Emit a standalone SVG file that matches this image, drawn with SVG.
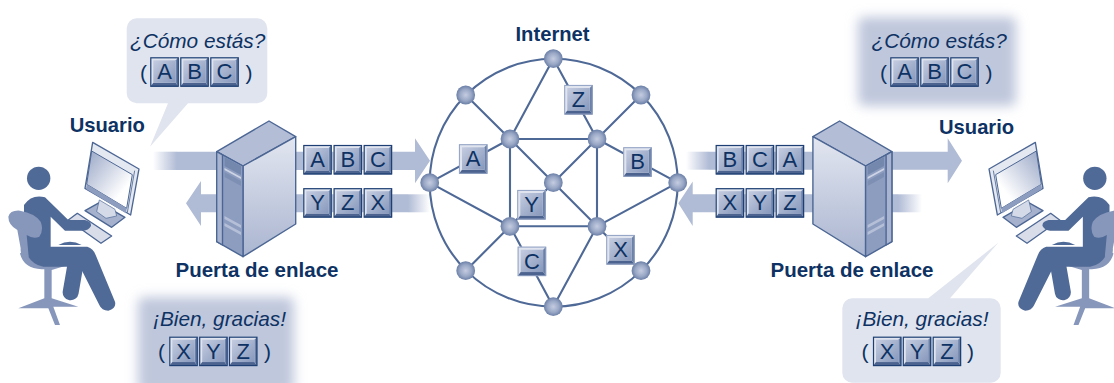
<svg xmlns="http://www.w3.org/2000/svg" width="1114" height="383" viewBox="0 0 1114 383">
<style>
.navy{fill:#0d3263;font-family:"Liberation Sans",Arial,sans-serif}
.lab{font-size:20.2px;font-weight:700}
.wide{font-size:20.5px;font-weight:700}
.say{font-size:20.8px;font-style:italic}
.par{font-size:21px}
.let{font-size:22px;text-anchor:middle}
.band{fill:#b0bbd5}
.edge{stroke:#4f6997;stroke-width:2.1;fill:none}
.node{fill:url(#ball)}
.sv{stroke:#4c6694;stroke-width:1.4;stroke-linejoin:round}
.body{fill:#506a97}
.chair{fill:#8797bb}
.cp{stroke:#4c6694;stroke-width:4;stroke-linejoin:round}
</style>
<defs>
<radialGradient id="ball" cx=".5" cy=".5" r=".55"><stop offset="0" stop-color="#c4cce0"/><stop offset=".55" stop-color="#9aa8c6"/><stop offset="1" stop-color="#5f759f"/></radialGradient>
<linearGradient id="face" x1="0" y1="0" x2="1" y2="1"><stop offset="0" stop-color="#c4cce0"/><stop offset="1" stop-color="#8798bc"/></linearGradient>
<linearGradient id="fadeR" x1="0" x2="1"><stop offset="0" stop-color="#b0bbd5" stop-opacity="0"/><stop offset="1" stop-color="#b0bbd5"/></linearGradient>
<linearGradient id="fadeL" x1="0" x2="1"><stop offset="0" stop-color="#b0bbd5"/><stop offset="1" stop-color="#b0bbd5" stop-opacity="0"/></linearGradient>
<linearGradient id="svFront" x1="0" y1="0" x2="0" y2="1"><stop offset="0" stop-color="#e2e6f0"/><stop offset="1" stop-color="#aab5d0"/></linearGradient>
<linearGradient id="screen" x1="0" y1="0" x2="1" y2="1"><stop offset="0" stop-color="#98a6c6"/><stop offset=".75" stop-color="#fff"/></linearGradient>
<filter id="soft" x="-20%" y="-20%" width="140%" height="140%"><feGaussianBlur stdDeviation="6"/></filter>
<g id="bevel">
<rect x="0" y="0" width="28.4" height="29.4" fill="#dfe4ef"/>
<polygon points="0,29.4 28.4,29.4 25.4,25.4 3,25.4" fill="#4c6390"/>
<polygon points="28.4,0 28.4,29.4 25.4,25.4 25.4,3" fill="#6c81a8"/>
<rect x="3" y="3" width="22.4" height="22.4" fill="url(#face)"/>
</g>
<g id="tile"><use href="#bevel"/><rect x=".5" y=".5" width="27.4" height="28.4" fill="none" stroke="#1d3f73" stroke-width="1.2"/></g>
<g id="ntile"><use href="#bevel"/><rect x=".4" y=".4" width="27.6" height="28.6" fill="none" stroke="#8fa0c2" stroke-width="1"/></g>
<g id="server">
<polygon class="sv" points="216.7,151.7 269,121 295.7,136.7 243,166" fill="#b3bdd6"/>
<polygon class="sv" points="243,166 295.7,136.7 295.7,224 243,256.7" fill="url(#svFront)"/>
<polygon class="sv" points="216.7,151.7 243,166 243,256.7 216.7,241.7" fill="#8d9dc0"/>
<polygon class="sv" points="216.7,151.7 222.5,155 222.5,245 216.7,241.7" fill="#a9b5d0"/>
<polygon points="224.5,157 241,166 241,175 224.5,166" fill="#7488ae"/>
<polygon points="224.5,168 241,177 241,179 224.5,170" fill="#cdd4e5"/>
<polygon points="224.5,172 241,181 241,186 224.5,177" fill="#7d90b4"/>
<polygon points="224.5,216 241,225 241,228 224.5,219" fill="#b5bfd7"/>
<polygon points="224.5,223 241,232 241,235 224.5,226" fill="#b5bfd7"/>
</g>
<g id="computer" transform="scale(.3333)">
<polygon class="cp" points="232,640 335,708 303,730 205,660" fill="#d8dde9"/>
<polygon class="cp" points="255,632 298,608 375,652 335,682" fill="#a5b1cd"/>
<polygon points="298,600 345,628 350,648 318,655 290,635" fill="#d4dae8" stroke="#4c6694" stroke-width="2"/>
<polygon class="cp" points="278,427 417,507 392,645 255,565" fill="#e4e8f1"/>
<polygon points="275,453 397,524 380,625 260,553" fill="url(#screen)" stroke="#4c6694" stroke-width="3"/>
<polygon points="260,553 380,625 378,640 258,567" fill="#8d9dc0"/>
<line x1="404" y1="512" x2="382" y2="638" stroke="#4c6694" stroke-width="2.5"/>
</g>
<g id="person" transform="scale(.3333)">
<circle class="body" cx="116" cy="535" r="35"/>
<path class="body" d="M175 735Q210 715 245 735Z"/>
<line x1="228" y1="785" x2="212" y2="877" stroke="#506a97" stroke-width="48" stroke-linecap="round"/>
<path class="chair" d="M60 760Q70 805 125 808L133 808V895L55 925L145 925L165 975H180L160 920L235 920L155 895V810L205 795L90 750Z"/>
<path class="body" d="M72 615Q95 582 135 592L205 660H255Q275 665 273 678Q265 692 250 692H195L152 650V740H262Q280 745 287 765L345 905Q350 925 325 932Q305 932 298 915L240 800H130Q100 795 85 770L72 680Z"/>
<path class="chair" d="M25 650Q30 630 60 632Q105 640 122 665Q132 690 118 710Q100 718 80 705L86 770Q60 780 62 745L52 690Q25 675 25 650Z"/>
</g>
</defs>

<g id="connectors">
<rect x="153" y="151.7" width="24" height="18.3" fill="url(#fadeR)"/>
<polygon class="band" points="177,151.7 415,151.7 415,138.3 430,160.8 415,183.3 415,170 177,170"/>
<polygon class="band" points="186,203.3 201,181 201,194.3 408,194.3 408,212.3 201,212.3 201,226"/>
<rect x="408" y="194.3" width="22" height="18" fill="url(#fadeL)"/>
<rect x="686" y="151.7" width="23" height="18" fill="url(#fadeR)"/>
<polygon class="band" points="709,151.7 947.7,151.7 947.7,138.3 962,160.8 947.7,183.3 947.7,169.7 709,169.7"/>
<polygon class="band" points="678.3,203.3 692.7,181.5 692.7,194.3 898,194.3 898,212.3 692.7,212.3 692.7,226"/>
<rect x="898" y="194.3" width="24" height="18" fill="url(#fadeL)"/>
</g>

<g id="net-links">
<circle class="edge" cx="553.7" cy="182.7" r="124"/>
<path class="edge" d="M553.3 58.7L510 139M553.3 58.7L597 139M465.7 95L510 139M641 95L597 139M429.7 182.7L510 139M677.7 182.7L597 139M429.7 182.7L510 226.3M677.7 182.7L597 226.3M465.7 270.7L510 226.3M641 270.7L597 226.3M553.3 306.7L510 226.3M553.3 306.7L597 226.3M510 139H597M510 226.3H597M510 139V226.3M597 139V226.3M510 139L597 226.3M597 139L510 226.3"/>
</g>

<g id="net-nodes">
<circle class="node" cx="553.3" cy="58.7" r="9.4"/>
<circle class="node" cx="465.7" cy="95" r="9.4"/>
<circle class="node" cx="641" cy="95" r="9.4"/>
<circle class="node" cx="429.7" cy="182.7" r="9.4"/>
<circle class="node" cx="677.7" cy="182.7" r="9.4"/>
<circle class="node" cx="465.7" cy="270.7" r="9.4"/>
<circle class="node" cx="641" cy="270.7" r="9.4"/>
<circle class="node" cx="553.3" cy="306.7" r="9.4"/>
<circle class="node" cx="510" cy="139" r="9.4"/>
<circle class="node" cx="597" cy="139" r="9.4"/>
<circle class="node" cx="553.3" cy="182.7" r="9.4"/>
<circle class="node" cx="510" cy="226.3" r="9.4"/>
<circle class="node" cx="597" cy="226.3" r="9.4"/>
</g>

<g id="net-packets">
<g transform="translate(459,144.3)"><use href="#ntile"/><text class="navy let" x="14.2" y="22">A</text></g>
<g transform="translate(564.3,85)"><use href="#ntile"/><text class="navy let" x="14.2" y="22">Z</text></g>
<g transform="translate(623.3,147.3)"><use href="#ntile"/><text class="navy let" x="14.2" y="22">B</text></g>
<g transform="translate(517.3,190)"><use href="#ntile"/><text class="navy let" x="14.2" y="22">Y</text></g>
<g transform="translate(517.7,246.7)"><use href="#ntile"/><text class="navy let" x="14.2" y="22">C</text></g>
<g transform="translate(606.3,235)"><use href="#ntile"/><text class="navy let" x="14.2" y="22">X</text></g>
</g>
<text id="internet-label" class="navy lab" x="515.5" y="41">Internet</text>

<g id="gateway-left">
<use href="#server"/>
<text class="navy wide" x="175.5" y="276.7">Puerta de enlace</text>
</g>
<g id="gateway-right">
<use href="#server" transform="translate(1108.6,0) scale(-1,1)"/>
<text class="navy wide" x="770.5" y="276.7">Puerta de enlace</text>
</g>

<g id="packets-left">
<g transform="translate(303.3,145)"><use href="#tile"/><text class="navy let" x="14.2" y="22">A</text></g>
<g transform="translate(333.6,145)"><use href="#tile"/><text class="navy let" x="14.2" y="22">B</text></g>
<g transform="translate(363.7,145)"><use href="#tile"/><text class="navy let" x="14.2" y="22">C</text></g>
<g transform="translate(303.3,188.2)"><use href="#tile"/><text class="navy let" x="14.2" y="22">Y</text></g>
<g transform="translate(333.6,188.2)"><use href="#tile"/><text class="navy let" x="14.2" y="22">Z</text></g>
<g transform="translate(363.7,188.2)"><use href="#tile"/><text class="navy let" x="14.2" y="22">X</text></g>
</g>
<g id="packets-right">
<g transform="translate(715.7,145)"><use href="#tile"/><text class="navy let" x="14.2" y="22">B</text></g>
<g transform="translate(745.7,145)"><use href="#tile"/><text class="navy let" x="14.2" y="22">C</text></g>
<g transform="translate(775.7,145)"><use href="#tile"/><text class="navy let" x="14.2" y="22">A</text></g>
<g transform="translate(715.7,188.2)"><use href="#tile"/><text class="navy let" x="14.2" y="22">X</text></g>
<g transform="translate(745.7,188.2)"><use href="#tile"/><text class="navy let" x="14.2" y="22">Y</text></g>
<g transform="translate(775.7,188.2)"><use href="#tile"/><text class="navy let" x="14.2" y="22">Z</text></g>
</g>

<g id="user-left">
<use href="#computer"/>
<use href="#person"/>
<text class="navy lab" x="69.7" y="132">Usuario</text>
</g>
<g id="user-right">
<use href="#computer" transform="translate(1128,0) scale(-1,1)"/>
<use href="#person" transform="translate(1133.5,0) scale(-1,1)"/>
<text class="navy lab" x="939" y="133.7">Usuario</text>
</g>

<g id="bubble-left-top">
<path fill="#e0e4ee" d="M136.7 18.3H257.3A10 10 0 0 1 267.3 28.3V93.3A10 10 0 0 1 257.3 103.3H188L150 146.7L168 103.3H136.7A10 10 0 0 1 126.7 93.3V28.3A10 10 0 0 1 136.7 18.3Z"/>
<text class="navy say" x="130" y="48.3">¿Cómo estás?</text>
<text class="navy par" x="140" y="80">(</text><text class="navy par" x="245.5" y="80">)</text>
<g transform="translate(150.3,57.3)"><use href="#tile"/><text class="navy let" x="14.2" y="22">A</text></g>
<g transform="translate(180.3,57.3)"><use href="#tile"/><text class="navy let" x="14.2" y="22">B</text></g>
<g transform="translate(210.3,57.3)"><use href="#tile"/><text class="navy let" x="14.2" y="22">C</text></g>
</g>

<g id="bubble-left-bottom">
<rect x="138" y="297" width="156" height="97" rx="6" fill="#bfc7dc" filter="url(#soft)"/>
<text class="navy say" x="153" y="325.7">¡Bien, gracias!</text>
<text class="navy par" x="158" y="359">(</text><text class="navy par" x="264" y="359">)</text>
<g transform="translate(169.3,336.7)"><use href="#tile"/><text class="navy let" x="14.2" y="22">X</text></g>
<g transform="translate(199.2,336.7)"><use href="#tile"/><text class="navy let" x="14.2" y="22">Y</text></g>
<g transform="translate(229,336.7)"><use href="#tile"/><text class="navy let" x="14.2" y="22">Z</text></g>
</g>

<g id="bubble-right-top">
<rect x="858" y="17" width="158" height="89" rx="6" fill="#bfc7dc" filter="url(#soft)"/>
<text class="navy say" x="871.5" y="48.3">¿Cómo estás?</text>
<text class="navy par" x="880" y="80">(</text><text class="navy par" x="985.5" y="80">)</text>
<g transform="translate(890.3,57.3)"><use href="#tile"/><text class="navy let" x="14.2" y="22">A</text></g>
<g transform="translate(920.3,57.3)"><use href="#tile"/><text class="navy let" x="14.2" y="22">B</text></g>
<g transform="translate(950.3,57.3)"><use href="#tile"/><text class="navy let" x="14.2" y="22">C</text></g>
</g>

<g id="bubble-right-bottom">
<path fill="#e0e4ee" d="M852.3 298.3H928.3L998.3 242.7L950 298.3H990.7A10 10 0 0 1 1000.7 308.3V372.7A10 10 0 0 1 990.7 382.7H852.3A10 10 0 0 1 842.3 372.7V308.3A10 10 0 0 1 852.3 298.3Z"/>
<text class="navy say" x="855.5" y="325.7">¡Bien, gracias!</text>
<text class="navy par" x="861.5" y="359">(</text><text class="navy par" x="967" y="359">)</text>
<g transform="translate(873,336.7)"><use href="#tile"/><text class="navy let" x="14.2" y="22">X</text></g>
<g transform="translate(902.8,336.7)"><use href="#tile"/><text class="navy let" x="14.2" y="22">Y</text></g>
<g transform="translate(932.7,336.7)"><use href="#tile"/><text class="navy let" x="14.2" y="22">Z</text></g>
</g>
</svg>
